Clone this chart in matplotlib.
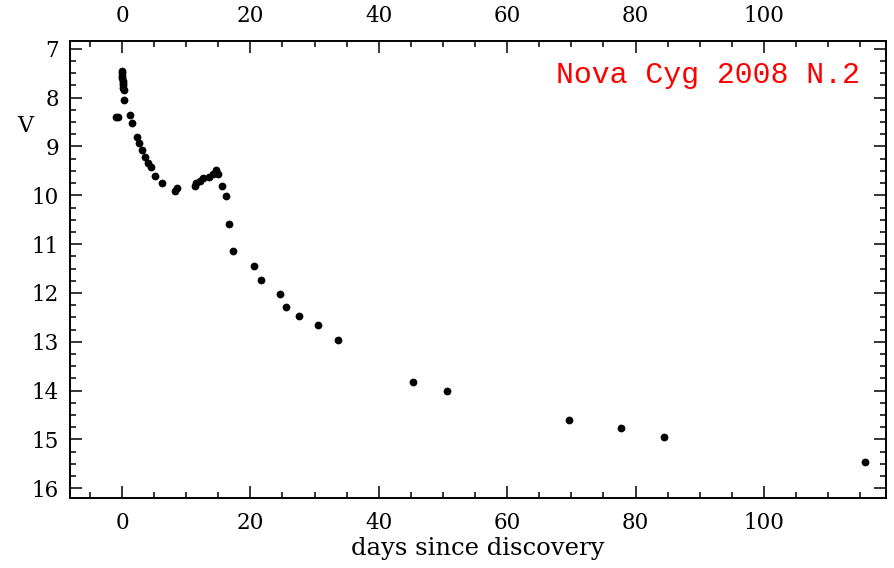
import matplotlib
matplotlib.use('Agg')
import matplotlib.pyplot as plt
import numpy as np
from matplotlib.ticker import MultipleLocator

# days since discovery and V magnitude
days = [-1.0, -0.6,
        0.0, 0.0, 0.05, 0.05, 0.1, 0.1, 0.15, 0.2, 0.25,
        0.3, 1.2, 1.6, 2.3, 2.6, 3.1, 3.6, 4.1, 4.5, 5.2, 6.2,
        8.2, 8.6, 11.3, 11.6, 12.1, 12.6, 13.5, 14.2, 14.6, 15.0,
        15.6, 16.2, 16.7, 17.3, 20.6, 21.6, 24.6, 25.6, 27.5, 30.5, 33.6,
        45.4, 50.6, 69.6, 77.7, 84.5, 115.7]
vmag = [8.39, 8.39,
        7.45, 7.5, 7.55, 7.6, 7.65, 7.7, 7.75, 7.8, 7.85,
        8.05, 8.35, 8.52, 8.81, 8.93, 9.07, 9.21, 9.34, 9.42, 9.6, 9.75,
        9.92, 9.85, 9.81, 9.75, 9.70, 9.64, 9.62, 9.56, 9.49, 9.56,
        9.80, 10.01, 10.59, 11.14, 11.44, 11.73, 12.02, 12.29, 12.47, 12.66, 12.96,
        13.82, 14.0, 14.60, 14.77, 14.95, 15.46]

title = 'Nova Cyg 2008 N.2'

fig = plt.figure(figsize=(8.94, 5.68), dpi=100)
ax = fig.add_axes([0.0783, 0.1232, 0.9127, 0.8046])

ax.plot(days, vmag, 'o', color='black', markersize=5.6, markeredgewidth=0)

ax.set_xlim(-8.1, 119)
ax.set_ylim(16.2, 6.84)

ax.xaxis.set_major_locator(MultipleLocator(20))
ax.xaxis.set_minor_locator(MultipleLocator(5))
ax.yaxis.set_major_locator(MultipleLocator(1))
ax.yaxis.set_minor_locator(MultipleLocator(0.25))

ax.tick_params(which='both', direction='in', top=True, right=True,
               labeltop=True, labelright=False, width=1.1)
ax.tick_params(which='major', length=8.5, pad=8)
ax.tick_params(axis='x', which='major', pad=10)
ax.tick_params(which='minor', length=4.3)
for lab in ax.get_xticklabels() + ax.get_yticklabels():
    lab.set_fontfamily('DejaVu Serif')
    lab.set_fontsize(15.5)
for s in ax.spines.values():
    s.set_linewidth(1.4)

ax.set_xlabel('days since discovery', fontfamily='DejaVu Serif', fontsize=17.5, labelpad=2)
ax.set_ylabel('V', fontfamily='DejaVu Serif', fontsize=16, rotation=0, labelpad=14)
ax.yaxis.set_label_coords(-0.055, 0.79)

ax.text(0.968, 0.957, title, transform=ax.transAxes, ha='right', va='top',
        color='red', fontfamily='Liberation Mono', fontsize=21.5)

fig.savefig('out.png', dpi=100)
